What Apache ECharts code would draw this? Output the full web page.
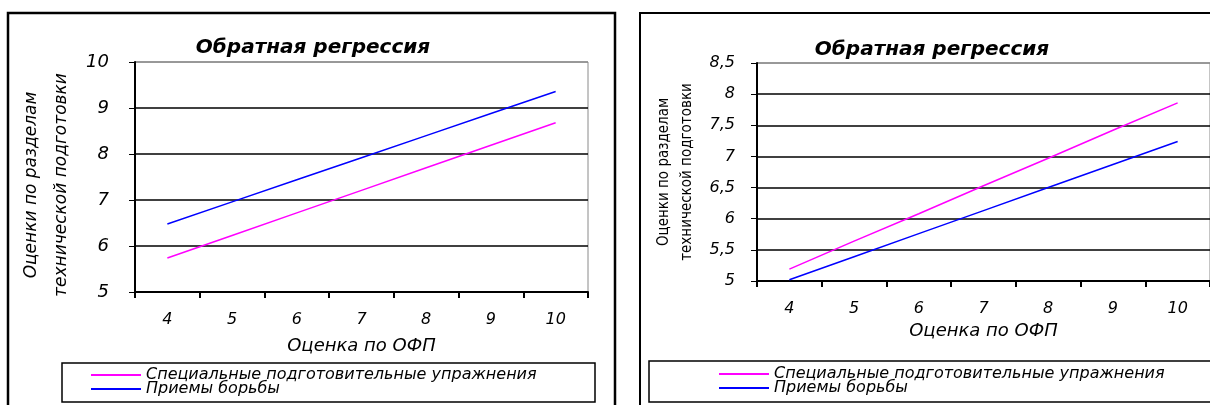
<!DOCTYPE html>
<html>
<head>
<meta charset="utf-8">
<script src="https://cdn.jsdelivr.net/npm/echarts@6/dist/echarts.min.js"></script>
<style>
  html, body { margin: 0; padding: 0; background: #ffffff; }
  #chart { width: 1210px; height: 405px; }
</style>
</head>
<body>
<div id="chart"></div>
<script>
// Оценки по ОФП (категории оси X)
const categories = ['4', '5', '6', '7', '8', '9', '10'];

// Левая диаграмма
const leftSpecial   = [5.74, 6.23, 6.72, 7.21, 7.70, 8.19, 8.68];
const leftWrestling = [6.48, 6.96, 7.44, 7.92, 8.40, 8.88, 9.36];

// Правая диаграмма
const rightSpecial   = [5.19, 5.64, 6.08, 6.53, 6.97, 7.42, 7.86];
const rightWrestling = [5.02, 5.39, 5.76, 6.13, 6.50, 6.87, 7.24];

const seriesNames = ['Специальные подготовительные упражнения', 'Приемы борьбы'];
const titleText = 'Обратная регрессия';
const xName = 'Оценка по ОФП';
const yName = 'Оценки по разделам\nтехнической подготовки';

const FONT = '"DejaVu Sans", "Liberation Sans", Arial, sans-serif';
const NARROW = '"DejaVu Sans Condensed", "Liberation Sans Narrow", "DejaVu Sans", sans-serif';
const PINK = '#ff00ff';
const BLUE = '#0000ff';

const commaFmt = v => String(v).replace('.', ',');

function xAxisCfg(gridIndex, margin, nameGap) {
  return {
    type: 'category', gridIndex, data: categories, boundaryGap: true,
    axisLine: { lineStyle: { color: '#000', width: 2 } },
    axisTick: { show: true, length: 6, lineStyle: { color: '#000', width: 2 } },
    axisLabel: { color: '#000', fontSize: 16, fontStyle: 'italic', fontFamily: FONT, margin },
    name: xName, nameLocation: 'middle', nameGap,
    nameTextStyle: { color: '#000', fontSize: 18, fontStyle: 'italic', fontFamily: FONT }
  };
}

function legendCfg(left, top, itemWidth) {
  return {
    data: seriesNames, orient: 'vertical', left, top, itemWidth, itemHeight: 2,
    icon: 'rect', itemGap: -2, padding: 0,
    textStyle: { fontSize: 16, fontStyle: 'italic', fontFamily: FONT, color: '#000', lineHeight: 13 }
  };
}

const titleStyle = { fontSize: 20, fontWeight: 'bold', fontStyle: 'italic', fontFamily: FONT, color: '#000' };

const chart = echarts.init(document.getElementById('chart'), null, { renderer: 'canvas' });

chart.setOption({
  backgroundColor: '#ffffff',
  animation: false,
  title: [
    { text: titleText, left: 308, top: 33, textAlign: 'center', textStyle: titleStyle },
    { text: titleText, left: 927, top: 35, textAlign: 'center', textStyle: titleStyle }
  ],
  legend: [ legendCfg(91, 367, 50), legendCfg(719, 366, 50) ],
  grid: [
    { left: 135, top: 62, width: 453, height: 230, show: true, borderColor: '#8a8a8a', borderWidth: 1 },
    { left: 757, top: 63, width: 455, height: 218, show: true, borderColor: '#8a8a8a', borderWidth: 1 }
  ],
  xAxis: [ xAxisCfg(0, 20, 45), xAxisCfg(1, 20, 41) ],
  yAxis: [
    { type: 'value', gridIndex: 0, min: 5, max: 10, interval: 1,
      axisLine: { show: true, lineStyle: { color: '#000', width: 2 } },
      axisTick: { show: true, length: 6, lineStyle: { color: '#000', width: 1 } },
      axisLabel: { color: '#000', fontSize: 18, fontStyle: 'italic', fontFamily: FONT, margin: 26, formatter: commaFmt },
      splitLine: { show: true, lineStyle: { color: ['#000', '#000', '#000', '#000', '#000', '#8a8a8a'], width: 1.5 } },
      name: yName, nameLocation: 'middle', nameGap: 58, nameRotate: 90,
      nameTextStyle: { color: '#000', fontSize: 17, fontStyle: 'italic', fontFamily: FONT, lineHeight: 30,
        padding: [0, 16, 0, 0] } },
    { type: 'value', gridIndex: 1, min: 5, max: 8.5, interval: 0.5,
      axisLine: { show: true, lineStyle: { color: '#000', width: 2 } },
      axisTick: { show: true, length: 6, lineStyle: { color: '#000', width: 1 } },
      axisLabel: { color: '#000', fontSize: 16, fontStyle: 'italic', fontFamily: FONT, margin: 22, formatter: commaFmt },
      splitLine: { show: true, lineStyle: { color: ['#000', '#000', '#000', '#000', '#000', '#000', '#000', '#8a8a8a'], width: 1.5 } },
      name: yName, nameLocation: 'middle', nameGap: 58, nameRotate: 90,
      nameTextStyle: { color: '#000', fontSize: 15, fontFamily: NARROW, lineHeight: 23 } }
  ],
  series: [
    { name: seriesNames[0], type: 'line', xAxisIndex: 0, yAxisIndex: 0, data: leftSpecial,
      showSymbol: false, lineStyle: { color: PINK, width: 1.5 }, itemStyle: { color: PINK } },
    { name: seriesNames[1], type: 'line', xAxisIndex: 0, yAxisIndex: 0, data: leftWrestling,
      showSymbol: false, lineStyle: { color: BLUE, width: 1.5 }, itemStyle: { color: BLUE } },
    { name: seriesNames[0], type: 'line', xAxisIndex: 1, yAxisIndex: 1, data: rightSpecial,
      showSymbol: false, lineStyle: { color: PINK, width: 1.5 }, itemStyle: { color: PINK } },
    { name: seriesNames[1], type: 'line', xAxisIndex: 1, yAxisIndex: 1, data: rightWrestling,
      showSymbol: false, lineStyle: { color: BLUE, width: 1.5 }, itemStyle: { color: BLUE } }
  ],
  graphic: [
    // рамки диаграмм
    { type: 'rect', shape: { x: 8, y: 13, width: 607, height: 410 }, silent: true,
      style: { fill: null, stroke: '#000', lineWidth: 2.5 }, z: 10 },
    { type: 'rect', shape: { x: 640, y: 13, width: 600, height: 410 }, silent: true,
      style: { fill: null, stroke: '#000', lineWidth: 2 }, z: 10 },
    // рамки легенд
    { type: 'rect', shape: { x: 62, y: 363, width: 533, height: 39 }, silent: true,
      style: { fill: null, stroke: '#000', lineWidth: 1.5 }, z: 10 },
    { type: 'rect', shape: { x: 649, y: 361, width: 600, height: 41 }, silent: true,
      style: { fill: null, stroke: '#000', lineWidth: 1.5 }, z: 10 }
  ]
});
</script>
</body>
</html>
